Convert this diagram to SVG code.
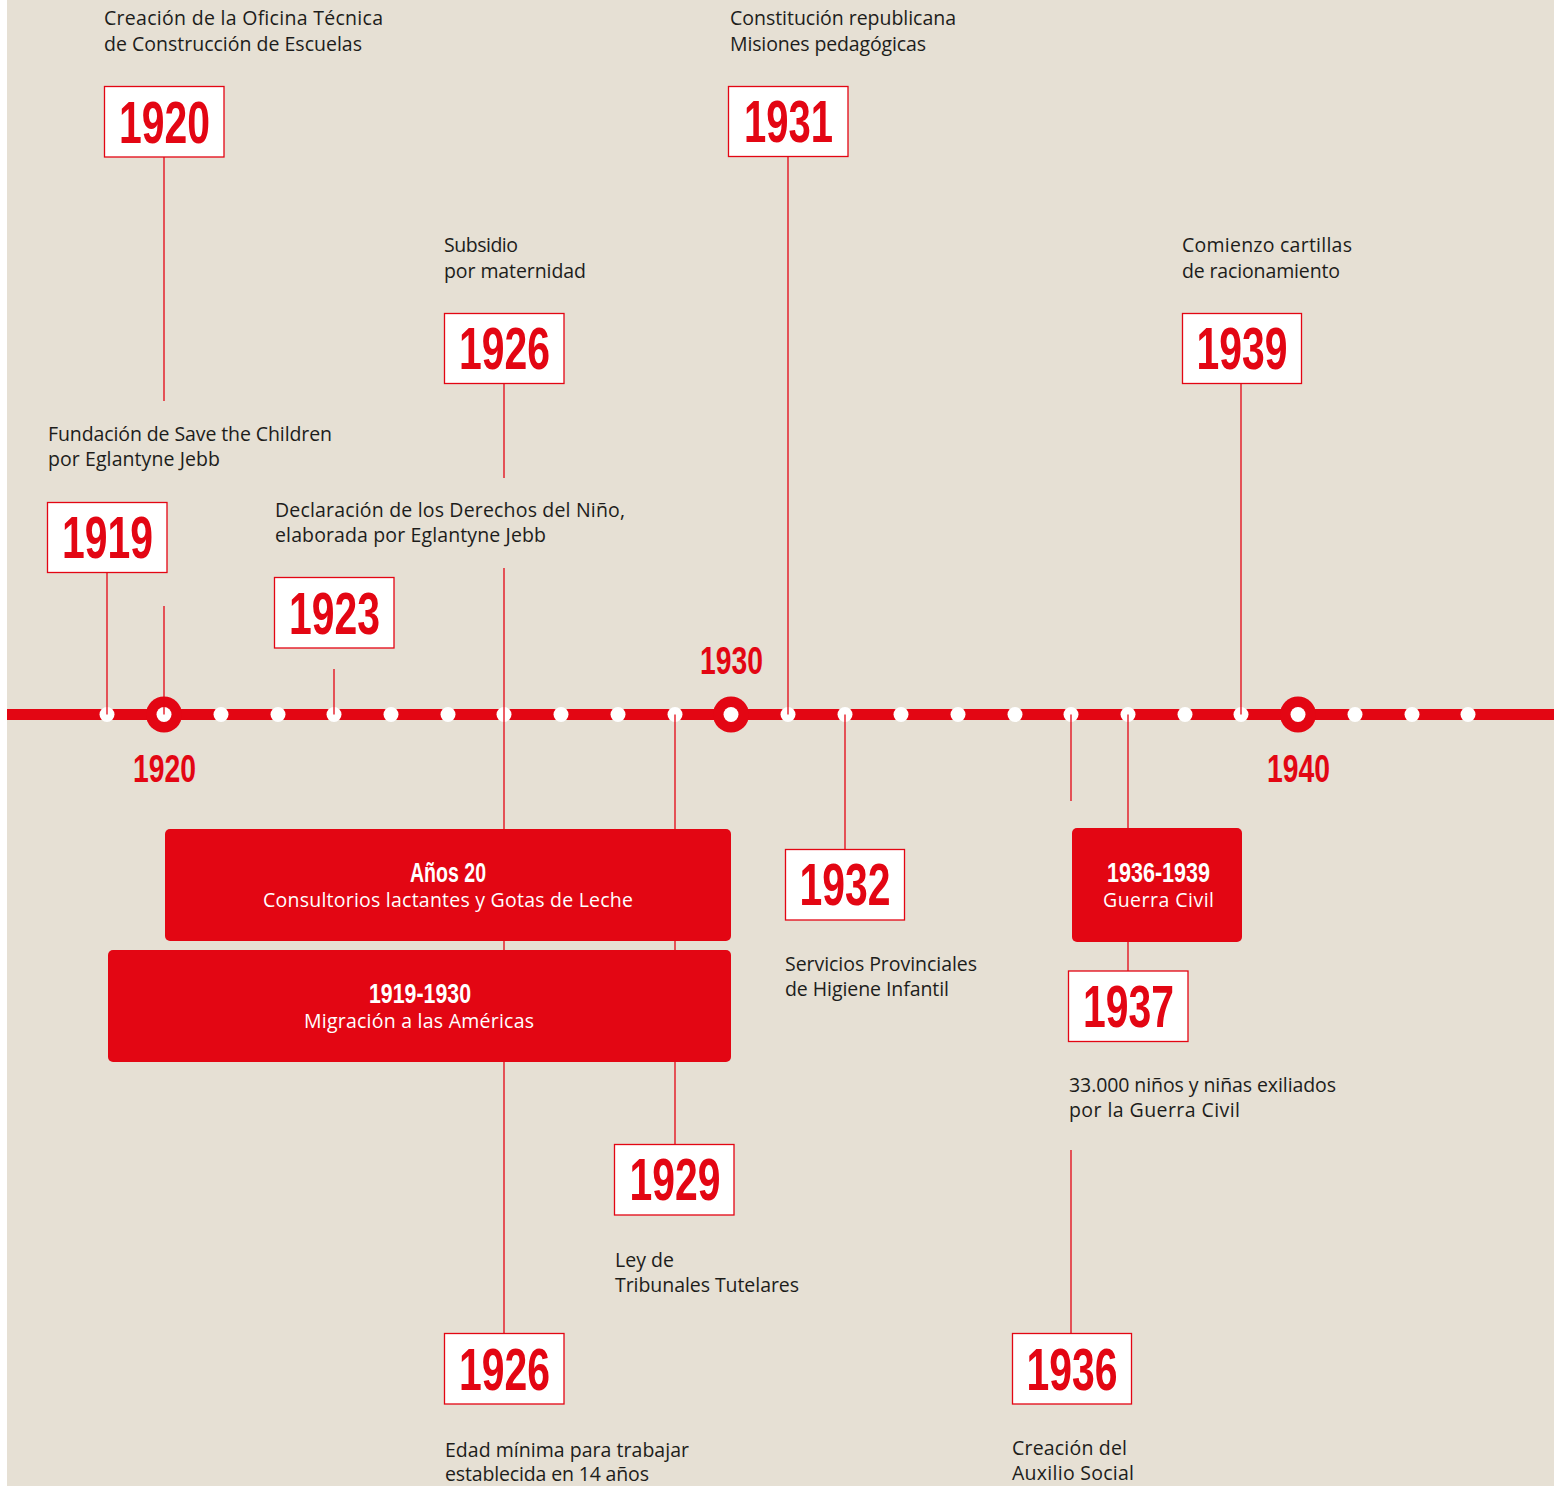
<svg xmlns="http://www.w3.org/2000/svg" width="1554" height="1486" viewBox="0 0 1554 1486">
<defs>
<style>
.bg{fill:#E6E0D4}
.tl{fill:#E30613}
.dot{fill:#FFFFFF}
.conn line{stroke:#E30613;stroke-width:1.3}
.ybox{fill:#FFFFFF;stroke:#E30613;stroke-width:1.3}
.ytxt{font-family:"Liberation Sans",Arial,sans-serif;font-weight:bold;font-size:60px;fill:#E30613;text-anchor:middle}
.slab{font-family:"Liberation Sans",Arial,sans-serif;font-weight:bold;font-size:38px;fill:#E30613;text-anchor:middle}
.body{font-family:"Open Sans",Lato,sans-serif;font-size:19.5px;fill:#1D1D1B}
.rbox{fill:#E30613}
.rhead{font-family:"Liberation Sans",Arial,sans-serif;font-weight:bold;font-size:28px;fill:#FFFFFF;text-anchor:middle}
.rsub{font-family:"Open Sans",Lato,sans-serif;font-size:19.5px;fill:#FFFFFF;text-anchor:middle}
</style>
</defs>
<rect x="0" y="0" width="1554" height="1486" fill="#FFFFFF"/>
<rect class="bg" x="7" y="0" width="1547" height="1486"/>

<g id="timeline">
<rect class="tl" x="7" y="709" width="1547" height="11"/>
<g class="dot">
<circle cx="107" cy="714.5" r="7.5"/>
<circle cx="221" cy="714.5" r="7.5"/>
<circle cx="278" cy="714.5" r="7.5"/>
<circle cx="334" cy="714.5" r="7.5"/>
<circle cx="391" cy="714.5" r="7.5"/>
<circle cx="448" cy="714.5" r="7.5"/>
<circle cx="504" cy="714.5" r="7.5"/>
<circle cx="561" cy="714.5" r="7.5"/>
<circle cx="618" cy="714.5" r="7.5"/>
<circle cx="675" cy="714.5" r="7.5"/>
<circle cx="788" cy="714.5" r="7.5"/>
<circle cx="845" cy="714.5" r="7.5"/>
<circle cx="901" cy="714.5" r="7.5"/>
<circle cx="958" cy="714.5" r="7.5"/>
<circle cx="1015" cy="714.5" r="7.5"/>
<circle cx="1071" cy="714.5" r="7.5"/>
<circle cx="1128" cy="714.5" r="7.5"/>
<circle cx="1185" cy="714.5" r="7.5"/>
<circle cx="1241" cy="714.5" r="7.5"/>
<circle cx="1355" cy="714.5" r="7.5"/>
<circle cx="1412" cy="714.5" r="7.5"/>
<circle cx="1468" cy="714.5" r="7.5"/>
</g>
<g id="decade-1920"><circle class="tl" cx="164" cy="714.5" r="18"/><circle class="dot" cx="164" cy="714.5" r="7.5"/><text class="slab" x="164.5" y="782" textLength="63" lengthAdjust="spacingAndGlyphs">1920</text></g>
<g id="decade-1930"><circle class="tl" cx="731" cy="714.5" r="18"/><circle class="dot" cx="731" cy="714.5" r="7.5"/><text class="slab" x="731.5" y="674" textLength="63" lengthAdjust="spacingAndGlyphs">1930</text></g>
<g id="decade-1940"><circle class="tl" cx="1298" cy="714.5" r="18"/><circle class="dot" cx="1298" cy="714.5" r="7.5"/><text class="slab" x="1298.5" y="782" textLength="63" lengthAdjust="spacingAndGlyphs">1940</text></g>
</g>

<g id="connectors" class="conn">
<line x1="164" y1="157" x2="164" y2="401"/>
<line x1="164" y1="606" x2="164" y2="714.5"/>
<line x1="107" y1="573" x2="107" y2="714.5"/>
<line x1="334" y1="669" x2="334" y2="714.5"/>
<line x1="504" y1="384" x2="504" y2="478"/>
<line x1="504" y1="568" x2="504" y2="1333"/>
<line x1="788" y1="157" x2="788" y2="714.5"/>
<line x1="1241" y1="384" x2="1241" y2="714.5"/>
<line x1="675" y1="714.5" x2="675" y2="1144"/>
<line x1="845" y1="714.5" x2="845" y2="849"/>
<line x1="1071" y1="714.5" x2="1071" y2="801"/>
<line x1="1071" y1="1150" x2="1071" y2="1333"/>
<line x1="1128" y1="714.5" x2="1128" y2="971"/>
</g>

<g id="n1920">
<text class="body" x="104" y="25" textLength="279">Creación de la Oficina Técnica</text>
<text class="body" x="104" y="51" textLength="258">de Construcción de Escuelas</text>
<rect class="ybox" x="104.5" y="86.5" width="119.5" height="70.5"/>
<text class="ytxt" x="164.5" y="143" textLength="91" lengthAdjust="spacingAndGlyphs">1920</text>
</g>

<g id="n1919">
<text class="body" x="48" y="441" textLength="284">Fundación de Save the Children</text>
<text class="body" x="48" y="466" textLength="172">por Eglantyne Jebb</text>
<rect class="ybox" x="47.5" y="502.5" width="119.5" height="70"/>
<text class="ytxt" x="107.5" y="558" textLength="91" lengthAdjust="spacingAndGlyphs">1919</text>
</g>

<g id="n1923">
<text class="body" x="275" y="517" textLength="350">Declaración de los Derechos del Niño,</text>
<text class="body" x="275" y="542" textLength="271">elaborada por Eglantyne Jebb</text>
<rect class="ybox" x="274.5" y="577.5" width="119.5" height="70.5"/>
<text class="ytxt" x="334.5" y="634" textLength="91" lengthAdjust="spacingAndGlyphs">1923</text>
</g>

<g id="n1926a">
<text class="body" x="444" y="252" textLength="74">Subsidio</text>
<text class="body" x="444" y="278" textLength="142">por maternidad</text>
<rect class="ybox" x="444.5" y="313.5" width="119.5" height="70"/>
<text class="ytxt" x="504.5" y="369" textLength="91" lengthAdjust="spacingAndGlyphs">1926</text>
</g>

<g id="n1931">
<text class="body" x="730" y="25" textLength="226">Constitución republicana</text>
<text class="body" x="730" y="51" textLength="196">Misiones pedagógicas</text>
<rect class="ybox" x="728.5" y="86.5" width="119.5" height="70"/>
<text class="ytxt" x="788.5" y="142" textLength="89" lengthAdjust="spacingAndGlyphs">1931</text>
</g>

<g id="n1939">
<text class="body" x="1182" y="252" textLength="170">Comienzo cartillas</text>
<text class="body" x="1182" y="278" textLength="158">de racionamiento</text>
<rect class="ybox" x="1182.5" y="313.5" width="119" height="70"/>
<text class="ytxt" x="1242" y="369" textLength="91" lengthAdjust="spacingAndGlyphs">1939</text>
</g>

<g id="n-anos20">
<rect class="rbox" x="165" y="829" width="566" height="112" rx="5"/>
<text class="rhead" x="448" y="882" textLength="76" lengthAdjust="spacingAndGlyphs">Años 20</text>
<text class="rsub" x="448" y="907" textLength="370">Consultorios lactantes y Gotas de Leche</text>
</g>

<g id="n-1919-1930">
<rect class="rbox" x="108" y="950" width="623" height="112" rx="5"/>
<text class="rhead" x="420" y="1003" textLength="102" lengthAdjust="spacingAndGlyphs">1919-1930</text>
<text class="rsub" x="419" y="1028" textLength="230">Migración a las Américas</text>
</g>

<g id="n1929">
<rect class="ybox" x="614.5" y="1144.5" width="119.5" height="70.5"/>
<text class="ytxt" x="675" y="1200" textLength="91" lengthAdjust="spacingAndGlyphs">1929</text>
<text class="body" x="615" y="1267" textLength="59">Ley de</text>
<text class="body" x="615" y="1292" textLength="184">Tribunales Tutelares</text>
</g>

<g id="n1926b">
<rect class="ybox" x="444.5" y="1333.5" width="119.5" height="70.5"/>
<text class="ytxt" x="504.5" y="1390" textLength="91" lengthAdjust="spacingAndGlyphs">1926</text>
<text class="body" x="445" y="1457" textLength="244">Edad mínima para trabajar</text>
<text class="body" x="445" y="1481" textLength="204">establecida en 14 años</text>
</g>

<g id="n1932">
<rect class="ybox" x="785.5" y="849.5" width="119" height="70.5"/>
<text class="ytxt" x="845" y="905" textLength="91" lengthAdjust="spacingAndGlyphs">1932</text>
<text class="body" x="785" y="971" textLength="192">Servicios Provinciales</text>
<text class="body" x="785" y="996" textLength="164">de Higiene Infantil</text>
</g>

<g id="n-guerra">
<rect class="rbox" x="1072" y="828" width="170" height="114" rx="5"/>
<text class="rhead" x="1158.5" y="882" textLength="103" lengthAdjust="spacingAndGlyphs">1936-1939</text>
<text class="rsub" x="1158.5" y="907" textLength="111">Guerra Civil</text>
</g>

<g id="n1937">
<rect class="ybox" x="1068.5" y="971" width="119.5" height="70.5"/>
<text class="ytxt" x="1128.5" y="1027" textLength="91" lengthAdjust="spacingAndGlyphs">1937</text>
<text class="body" x="1069" y="1092" textLength="267">33.000 niños y niñas exiliados</text>
<text class="body" x="1069" y="1117" textLength="171">por la Guerra Civil</text>
</g>

<g id="n1936">
<rect class="ybox" x="1012.5" y="1333.5" width="119" height="70.5"/>
<text class="ytxt" x="1072" y="1390" textLength="91" lengthAdjust="spacingAndGlyphs">1936</text>
<text class="body" x="1012" y="1455" textLength="115">Creación del</text>
<text class="body" x="1012" y="1480" textLength="122">Auxilio Social</text>
</g>
</svg>
